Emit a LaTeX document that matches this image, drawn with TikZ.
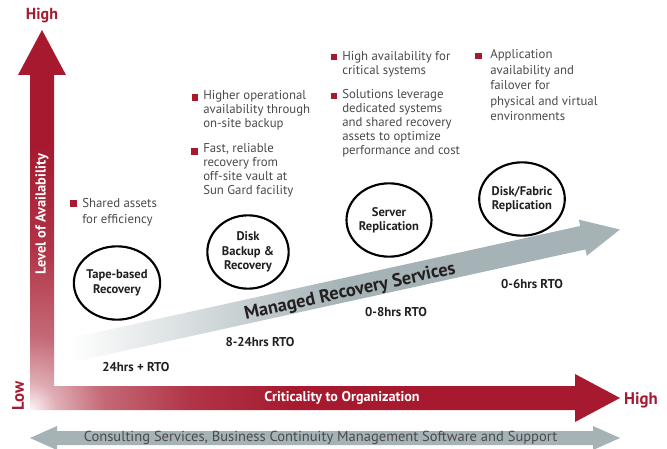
\documentclass[tikz,border=0pt]{standalone}
\usepackage{fontspec}
\setmainfont{PT Sans}
\usetikzlibrary{shapes.geometric}
\definecolor{sgred}{HTML}{A6192E}
\definecolor{sggray}{HTML}{A5B3B7}
\definecolor{txtgray}{HTML}{4A4A4C}
\definecolor{txtdark}{HTML}{231F20}
\pgfdeclareradialshading{cornerfade}{\pgfpoint{0bp}{0bp}}{%
  color(0bp)=(sgred!4); color(20bp)=(sgred!35); color(55bp)=(sgred!65);
  color(120bp)=(sgred!88); color(200bp)=(sgred); color(560bp)=(sgred)}
\tikzset{
  stage/.style={ellipse, draw=black, line width=1.6pt, fill=white,
    minimum width=61pt, minimum height=55pt, inner sep=0pt, align=center,
    font=\bfseries\fontsize{9.4}{10.8}\selectfont, text=txtdark},
  rto/.style={font=\bfseries\fontsize{9.6}{11}\selectfont, text=txtdark, inner sep=0pt},
  bulletsq/.style={fill=sgred, minimum size=4.6pt, inner sep=0pt},
  btext/.style={anchor=north west, inner sep=0pt, align=left, text=txtgray,
    font=\fontsize{9.6}{10.5}\selectfont},
  axislabel/.style={text=white, inner sep=0pt, font=\bfseries\fontsize{10.8}{12}\selectfont},
  endlabel/.style={text=sgred, inner sep=0pt, font=\bfseries\fontsize{12}{14}\selectfont}
}
\begin{document}
\begin{tikzpicture}[x=0.75pt,y=-0.75pt]
\useasboundingbox (0,0) rectangle (667,449);
\begin{scope}
\clip (0,0) rectangle (667,449);
% L-shaped axes arrow with fade at the corner
\begin{scope}
\clip (30,410) -- (30,75) -- (18,75) -- (42,30) -- (66,75) -- (54,75) -- (54,386)
  -- (575,386) -- (575,374) -- (620,398) -- (575,422) -- (575,410) -- cycle;
\node[inner sep=0pt, outer sep=0pt] (fade) at (30,410) {\pgfuseshading{cornerfade}};
\end{scope}
% managed recovery services arrow
\begin{scope}[shift={(72,350)}, rotate=12.4]
\shade[left color=white, right color=sggray, middle color=sggray]
  (0,-12) -- (523,-12) -- (523,-18.5) -- (561,0) -- (523,18.5) -- (523,12) -- (0,12) -- cycle;
\end{scope}
\node[rotate=12.4, inner sep=0pt, text=txtdark, font=\bfseries\fontsize{13.8}{15}\selectfont]
  (mrs) at (350,292) {Managed Recovery Services};
% bottom double arrow
\fill[sggray] (30,438) -- (57,426) -- (57,431) -- (593,431) -- (593,426) -- (620,438)
  -- (593,450) -- (593,445) -- (57,445) -- (57,450) -- cycle;
\node[inner sep=0pt, text=txtgray, font=\fontsize{10.9}{12}\selectfont] (consult) at (320.5,438)
  {Consulting Services, Business Continuity Management Software and Support};
\end{scope}
% axis labels
\node[endlabel] (hightop) at (42,16) {High};
\node[endlabel, font=\bfseries\fontsize{12.6}{14}\selectfont] (highright) at (641,400) {High};
\node[endlabel, font=\bfseries\fontsize{12.6}{14}\selectfont, rotate=90] (low) at (18,396) {Low};
\node[axislabel, rotate=90] (level) at (42,214) {Level of Availability};
\node[axislabel, font=\bfseries\fontsize{10.6}{12}\selectfont] (crit) at (342,398) {Criticality to Organization};
% stages
\node[stage] (tape) at (117,283) {Tape-based\\Recovery};
\node[stage] (disk) at (248,252) {Disk\\Backup \&\\Recovery};
\node[stage] (server) at (389,220) {Server\\Replication};
\node[stage] (fabric) at (522,199) {Disk/Fabric\\Replication};
% RTO labels
\node[rto] (rto1) at (136,367) {24hrs + RTO};
\node[rto] (rto2) at (260,342) {8-24hrs RTO};
\node[rto] (rto3) at (396,312) {0-8hrs RTO};
\node[rto] (rto4) at (532,284) {0-6hrs RTO};
% bullets
\node[bulletsq] (b1) at (73.5,203.5) {};
\node[btext, font=\fontsize{9.6}{11.6}\selectfont] (t1) at (82,198.5) {Shared assets\\for efficiency};
\node[bulletsq] (b2) at (195,97.5) {};
\node[btext] (t2) at (203,90) {Higher operational\\availability through\\on-site backup};
\node[bulletsq] (b3) at (194.5,151.5) {};
\node[btext] (t3) at (203,143.5) {Fast, reliable\\recovery from\\off-site vault at\\Sun Gard facility};
\node[bulletsq] (b4) at (333.7,57) {};
\node[btext] (t4) at (342,51) {High availability for\\critical systems};
\node[bulletsq] (b5) at (333.7,96) {};
\node[btext] (t5) at (342,89.5) {Solutions leverage\\dedicated systems\\and shared recovery\\assets to optimize\\performance and cost};
\node[bulletsq] (b6) at (478.5,56) {};
\node[btext, font=\fontsize{9.6}{11.6}\selectfont] (t6) at (490,49.5) {Application\\availability and\\failover for\\physical and virtual\\environments};
\end{tikzpicture}
\end{document}
